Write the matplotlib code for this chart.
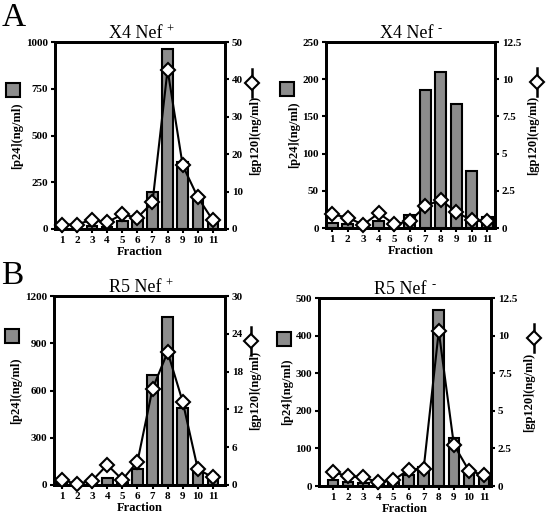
import matplotlib
matplotlib.use("Agg")
import matplotlib.pyplot as plt
from matplotlib.lines import Line2D

plt.rcParams["font.family"] = ["Liberation Serif", "DejaVu Serif"]

fractions = list(range(1, 12))

# Panel A, X4 Nef+
x4p_p24 = [2, 2, 18, 12, 45, 50, 198, 960, 360, 172, 50]
x4p_gp120 = [1.2, 1.2, 2.5, 1.8, 3.9, 3.0, 7.1, 42.6, 17.0, 8.5, 2.3]
# Panel A, X4 Nef-
x4m_p24 = [7, 6, 0, 9, 0, 17, 185, 210, 167, 76, 15]
x4m_gp120 = [0.92, 0.7, 0.22, 1.0, 0.25, 0.45, 1.46, 1.9, 1.06, 0.52, 0.45]
# Panel B, R5 Nef+
r5p_p24 = [12, 0, 5, 42, 15, 102, 697, 1066, 488, 106, 64]
r5p_gp120 = [0.8, 0.16, 0.7, 3.2, 0.85, 3.7, 15.3, 21.1, 13.2, 2.5, 1.2]
# Panel B, R5 Nef-
r5m_p24 = [17, 11, 9, 3, 8, 30, 50, 467, 128, 39, 26]
r5m_gp120 = [0.93, 0.64, 0.58, 0.24, 0.38, 1.09, 1.15, 10.3, 2.75, 1.02, 0.71]

BAR_COLOR = "#8c8c8c"
W, H = 548, 516


def px_rect(x0, x1, ytop, ybot):
    return [x0 / W, 1 - ybot / H, (x1 - x0) / W, (ybot - ytop) / H]


def fig_pt(x, y):
    return x / W, 1 - y / H


def panel(fig, rect, title, sign, p24, gp120, p24_max, p24_ticks, gp_max,
          gp_ticks, gp_labels, xlim, sq, dm):
    ax = fig.add_axes(rect)
    ax.bar(fractions, p24, width=0.7, color=BAR_COLOR, edgecolor="black",
           linewidth=1.5, zorder=2)
    ax.set_ylim(0, p24_max)
    ax.set_xlim(*xlim)
    ax.set_yticks(p24_ticks)
    ax.set_xticks(fractions)
    ax.set_ylabel("[p24](ng/ml)", fontsize=9, fontweight="bold", labelpad=2)
    ax.set_xlabel("Fraction", fontsize=9, fontweight="bold", labelpad=1)
    t = ax.set_title(title, fontsize=13, pad=3, x=0.475)
    ax.annotate(sign, xy=(1, 1), xycoords=t, xytext=(3, 1),
                textcoords="offset points", fontsize=9, ha="left", va="top")

    ax2 = ax.twinx()
    ax2.plot(fractions, gp120, color="black", lw=1.5, marker="D", ms=7,
             mfc="white", mec="black", mew=1.5, zorder=3, clip_on=False)
    ax2.set_ylim(0, gp_max)
    ax2.set_yticks(gp_ticks)
    ax2.set_yticklabels(gp_labels)
    ax2.set_ylabel("[gp120](ng/ml)", fontsize=9, fontweight="bold",
                   rotation=90, labelpad=4)

    for a in (ax, ax2):
        for s in a.spines.values():
            s.set_linewidth(2)
        a.tick_params(direction="out", length=3, width=1.5, pad=2, labelsize=8)
        for lab in a.get_xticklabels() + a.get_yticklabels():
            lab.set_fontweight("bold")

    # legend icons
    fig.add_artist(Line2D(*zip(fig_pt(*sq)), marker="s", ms=10, mfc=BAR_COLOR,
                          mec="black", mew=1.5, ls="none"))
    x, y = dm
    fig.add_artist(Line2D([x / W, x / W], [1 - (y - 14) / H, 1 - (y + 14) / H],
                          color="black", lw=1.8))
    fig.add_artist(Line2D([x / W], [1 - y / H], marker="D", ms=7, mfc="white",
                          mec="black", mew=1.5, ls="none"))
    return ax


fig = plt.figure(figsize=(W / 100, H / 100), dpi=100)

panel(fig, px_rect(55, 225, 42, 229), "X4 Nef", "+", x4p_p24, x4p_gp120,
      1000, [0, 250, 500, 750, 1000], 50, [0, 10, 20, 30, 40, 50],
      ["0", "10", "20", "30", "40", "50"], (0.55, 11.8), (13, 90), (252, 83))
panel(fig, px_rect(326, 495, 42, 228), "X4 Nef", "-", x4m_p24, x4m_gp120,
      250, [0, 50, 100, 150, 200, 250], 12.5, [0, 2.5, 5, 7.5, 10, 12.5],
      ["0", "2.5", "5", "7.5", "10", "12.5"], (0.6, 11.5), (287, 89), (537, 82))
panel(fig, px_rect(54, 225, 296, 485), "R5 Nef", "+", r5p_p24, r5p_gp120,
      1200, [0, 300, 600, 900, 1200], 30, [0, 6, 12, 18, 24, 30],
      ["0", "6", "12", "18", "24", "30"], (0.47, 11.8), (12, 336), (251, 341))
panel(fig, px_rect(319, 491, 298, 486), "R5 Nef", "-", r5m_p24, r5m_gp120,
      500, [0, 100, 200, 300, 400, 500], 12.5, [0, 2.5, 5, 7.5, 10, 12.5],
      ["0", "2.5", "5", "7.5", "10", "12.5"], (0.07, 11.46), (284, 339), (534, 338))

fig.text(2 / W, 1 - 3 / H, "A", fontsize=24, va="top", ha="left")
fig.text(1 / W, 1 - 260 / H, "B", fontsize=24, va="top", ha="left")

fig.savefig("out.png", dpi=100)
